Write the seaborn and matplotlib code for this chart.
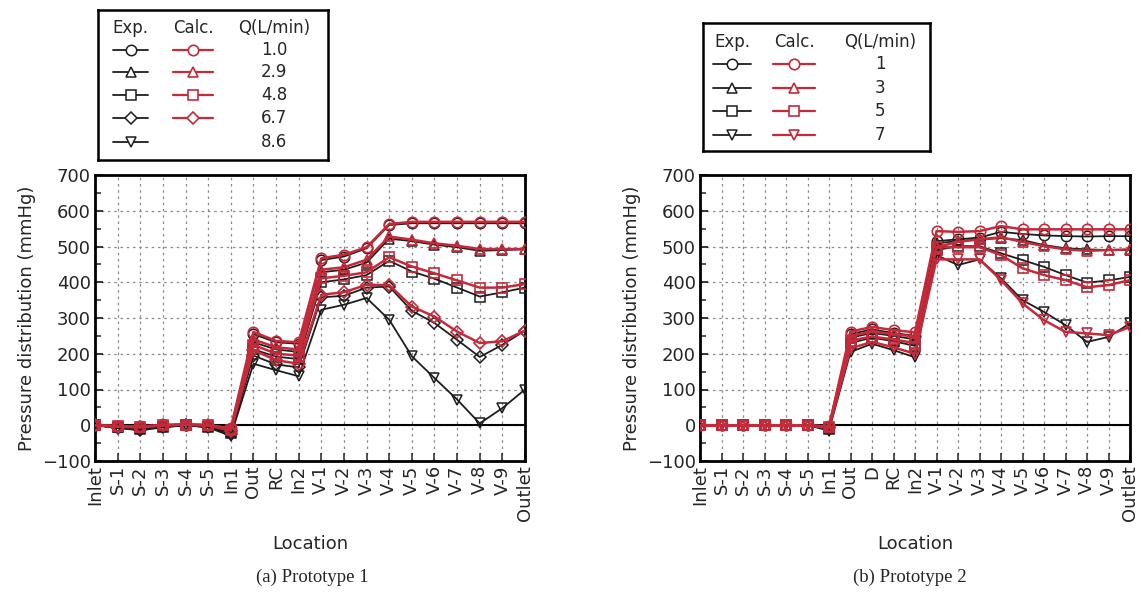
import numpy as np
import pandas as pd
import matplotlib
matplotlib.use('Agg')
import matplotlib.pyplot as plt
import seaborn as sns

# ---- data ----
loc1 = ['Inlet', 'S-1', 'S-2', 'S-3', 'S-4', 'S-5', 'In1', 'Out', 'RC', 'In2',
        'V-1', 'V-2', 'V-3', 'V-4', 'V-5', 'V-6', 'V-7', 'V-8', 'V-9', 'Outlet']
loc2 = ['Inlet', 'S-1', 'S-2', 'S-3', 'S-4', 'S-5', 'In1', 'Out', 'D', 'RC', 'In2',
        'V-1', 'V-2', 'V-3', 'V-4', 'V-5', 'V-6', 'V-7', 'V-8', 'V-9', 'Outlet']

q1 = ['1.0', '2.9', '4.8', '6.7', '8.6']
exp1 = [
    [0, -3, -5, -2, 0, -2, -15, 255, 232, 228, 462, 472, 495, 560, 565, 565, 565, 565, 565, 565],
    [0, -5, -8, -3, 0, -3, -18, 232, 212, 205, 428, 435, 455, 522, 515, 505, 498, 488, 490, 492],
    [0, -6, -10, -4, 0, -4, -22, 212, 192, 185, 400, 408, 420, 460, 430, 410, 385, 360, 372, 385],
    [0, -7, -12, -5, 0, -5, -25, 195, 170, 162, 358, 362, 385, 388, 320, 286, 239, 191, 225, 265],
    [0, -8, -14, -6, 0, -6, -30, 172, 154, 137, 323, 337, 356, 295, 193, 132, 72, 5, 48, 100],
]
calc1 = [
    [0, -2, -3, 0, 2, 0, -8, 261, 236, 232, 467, 477, 498, 563, 569, 569, 569, 569, 569, 569],
    [0, -3, -4, 0, 2, 0, -10, 240, 218, 212, 435, 442, 463, 528, 519, 509, 502, 493, 493, 493],
    [0, -3, -5, 0, 2, 0, -12, 225, 200, 195, 411, 418, 428, 470, 444, 425, 405, 385, 385, 395],
    [0, -4, -6, 0, 2, 0, -15, 210, 182, 172, 365, 372, 393, 392, 332, 304, 262, 230, 235, 265],
]

q2 = ['1', '3', '5', '7']
exp2 = [
    [0, 0, 0, 0, 0, 0, -5, 255, 268, 258, 250, 515, 520, 525, 541, 535, 531, 529, 528, 529, 529],
    [0, 0, 0, 0, 0, 0, -8, 245, 258, 250, 240, 509, 515, 520, 523, 518, 504, 495, 492, 490, 490],
    [0, 0, 0, 0, 0, 0, -10, 230, 245, 235, 222, 490, 501, 501, 481, 462, 443, 420, 399, 405, 415],
    [0, 0, 0, 0, 0, 0, -15, 205, 228, 210, 190, 476, 448, 464, 411, 350, 317, 280, 233, 247, 285],
]
calc2 = [
    [0, 0, 0, 0, 0, 0, -3, 262, 275, 266, 260, 543, 541, 543, 557, 548, 548, 548, 548, 548, 548],
    [0, 0, 0, 0, 0, 0, -5, 250, 262, 255, 248, 498, 513, 520, 526, 513, 501, 492, 488, 490, 492],
    [0, 0, 0, 0, 0, 0, -6, 237, 248, 240, 230, 498, 498, 498, 476, 439, 420, 406, 386, 392, 406],
    [0, 0, 0, 0, 0, 0, -8, 215, 233, 218, 200, 464, 464, 464, 406, 341, 294, 261, 257, 252, 275],
]

markers1 = ['o', '^', 's', 'D', 'v']
markers2 = ['o', '^', 's', 'v']

BLACK = '#1e1e1e'
RED = '#c42a3a'

sns.set_style('ticks')
plt.rcParams['font.family'] = ['DejaVu Sans']

fig = plt.figure(figsize=(11.39, 5.95), dpi=100)
W, H = 1139, 595


def px_axes(l, t, r, b):
    return fig.add_axes([l / W, 1 - b / H, (r - l) / W, (b - t) / H])


def msize(m):
    return 6.5 if m == 'D' else 7.5


def draw_panel(ax, locs, exp, calc, markers):
    x = np.arange(len(locs))
    for vals, m in zip(exp, markers):
        sns.lineplot(x=x, y=vals, ax=ax, color=BLACK, marker=m, markersize=msize(m),
                     markerfacecolor='none', markeredgecolor=BLACK, markeredgewidth=1.1,
                     linewidth=1.3, zorder=3)
    for vals, m in zip(calc, markers):
        sns.lineplot(x=x, y=vals, ax=ax, color=RED, marker=m, markersize=msize(m),
                     markerfacecolor='none', markeredgecolor=RED, markeredgewidth=1.2,
                     linewidth=1.8, zorder=4)
    ax.axhline(0, color='black', linewidth=1.5, zorder=2)
    ax.set_xlim(0, len(locs) - 1)
    ax.set_ylim(-100, 700)
    ax.set_xticks(x)
    ax.set_xticklabels(locs, rotation=90, fontsize=13)
    ax.set_yticks(np.arange(-100, 701, 100))
    ax.set_yticks(np.arange(-100, 701, 50), minor=True)
    ax.tick_params(axis='y', labelsize=13, direction='in', length=6, width=1.3, pad=3)
    ax.tick_params(axis='y', which='minor', direction='in', length=4, width=1.1)
    ax.tick_params(axis='x', direction='in', length=6, width=1.1, pad=3)
    ax.grid(True, which='major', color='#8a8a8a', linestyle=(0, (2, 3)), linewidth=0.9)
    for s in ax.spines.values():
        s.set_visible(True)
        s.set_linewidth(2)
        s.set_color('black')
    ax.set_xlabel('Location', fontsize=13, labelpad=10)
    ax.set_ylabel('Pressure distribution (mmHg)', fontsize=13, labelpad=4)


def draw_legend(lax, w, h, rows, qlabels, xs, hy, ry, ncalc):
    lax.set_xlim(0, w)
    lax.set_ylim(h, 0)
    lax.set_xticks([])
    lax.set_yticks([])
    for s in lax.spines.values():
        s.set_visible(True)
        s.set_linewidth(1.8)
        s.set_color('black')
    ex0, ex1, cx0, cx1, qx = xs
    lax.text((ex0 + ex1) / 2, hy, 'Exp.', ha='center', va='center', fontsize=12)
    lax.text((cx0 + cx1) / 2, hy, 'Calc.', ha='center', va='center', fontsize=12)
    lax.text(qx, hy, 'Q(L/min)', ha='center', va='center', fontsize=12)
    for i, (m, q) in enumerate(zip(rows, qlabels)):
        y = ry[i]
        lax.plot([ex0, ex1], [y, y], color=BLACK, lw=1.3)
        lax.plot([(ex0 + ex1) / 2], [y], marker=m, markersize=msize(m),
                 mfc='white', mec=BLACK, mew=1.1, ls='none')
        if i < ncalc:
            lax.plot([cx0, cx1], [y, y], color=RED, lw=1.6)
            lax.plot([(cx0 + cx1) / 2], [y], marker=m, markersize=msize(m),
                     mfc='white', mec=RED, mew=1.2, ls='none')
        lax.text(qx, y, q, ha='center', va='center', fontsize=12)


# left panel
ax1 = px_axes(95, 175, 525, 461)
draw_panel(ax1, loc1, exp1, calc1, markers1)
lg1 = px_axes(98, 10, 328, 160)
draw_legend(lg1, 230, 150, markers1, q1, (15, 50, 75, 115, 176),
            18, [40, 62, 85, 108, 132], len(calc1))

# right panel
ax2 = px_axes(700, 175, 1130, 461)
draw_panel(ax2, loc2, exp2, calc2, markers2)
lg2 = px_axes(703, 23, 930, 151)
draw_legend(lg2, 227, 128, markers2, q2, (10, 48, 70, 112, 177),
            19, [41, 65, 88, 112], len(calc2))

fig.text(312 / W, 1 - 577 / H, '(a) Prototype 1', ha='center', va='center',
         fontsize=13.5, family='Liberation Serif')
fig.text(910 / W, 1 - 577 / H, '(b) Prototype 2', ha='center', va='center',
         fontsize=13.5, family='Liberation Serif')

fig.savefig('out.png', dpi=100, facecolor='white')
